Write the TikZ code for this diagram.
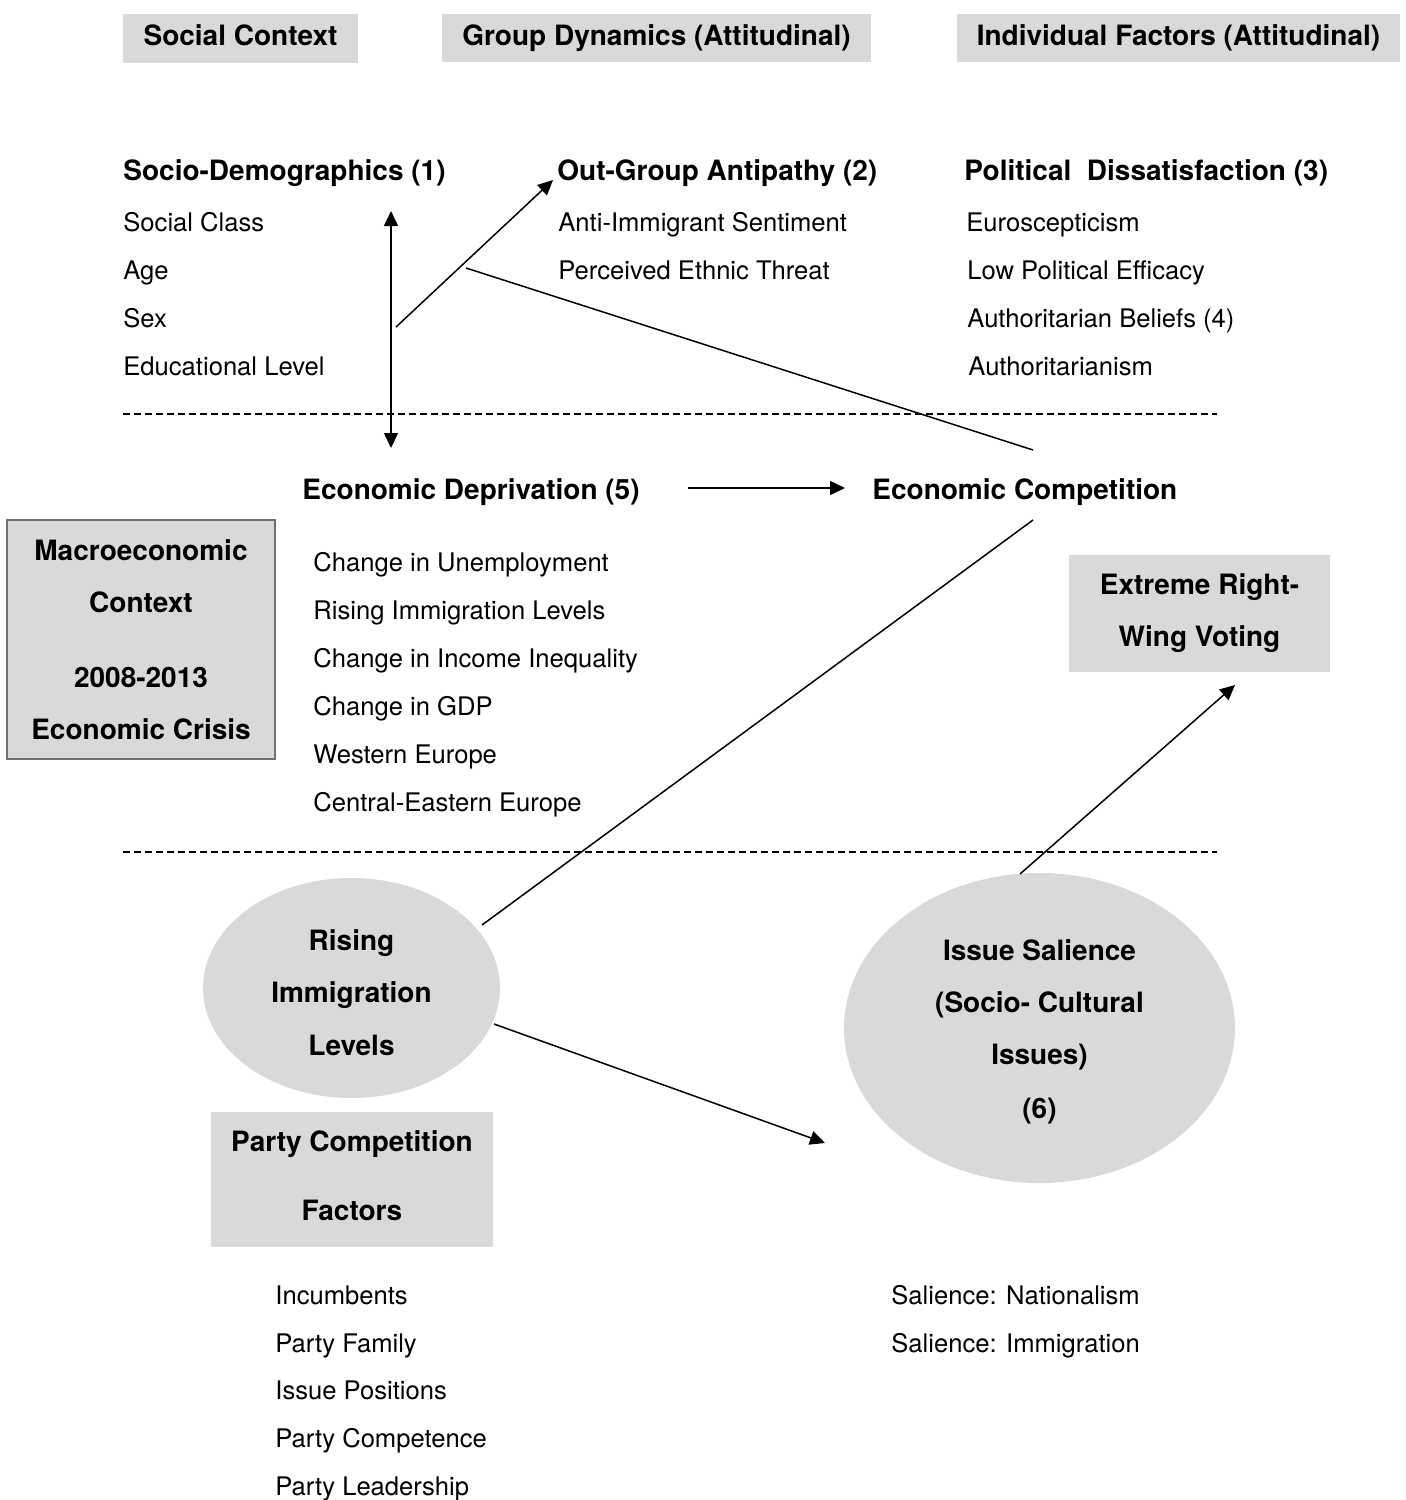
\documentclass[tikz,border=0pt]{standalone}
\usepackage{fontspec}
\setmainfont{TeX Gyre Heros}
\usetikzlibrary{arrows.meta,shapes.geometric}
\definecolor{boxgray}{HTML}{D9D9D9}
\definecolor{edgegray}{HTML}{707070}
\begin{document}
\begin{tikzpicture}[x=0.5pt,y=-0.5pt,
  bf/.style={font=\fontsize{14}{26}\selectfont\bfseries, inner sep=0pt},
  one/.style={text height=0.72em, text depth=0pt},
  ttl/.style={bf, one, anchor=west, yshift=-1pt},
  itm/.style={font=\fontsize{12.8}{24}\selectfont, inner sep=0pt, one, anchor=west, yshift=-1pt},
  graybox/.style={bf, fill=boxgray, align=center},
  grayell/.style={bf, fill=boxgray, ellipse, align=center},
  sep/.style={dashed, dash pattern=on 3.5pt off 2pt, line width=1pt},
  con/.style={line width=0.75pt},
  arr/.style={con, -{Triangle[length=7.5pt,width=7pt]}},
  darr/.style={con, {Triangle[length=7.5pt,width=7pt]}-{Triangle[length=7.5pt,width=7pt]}}
]
\useasboundingbox (0,0) rectangle (1406,1500);

% header boxes
\node[graybox, one, minimum width=117.5pt, minimum height=24.5pt] (hsoc) at (240.5,38.5) {Social Context};
\node[graybox, one, minimum width=214.5pt, minimum height=24pt] (hgrp) at (656.5,38) {Group Dynamics (Attitudinal)};
\node[graybox, one, minimum width=221.5pt, minimum height=24pt] (hind) at (1178.5,38) {Individual Factors (Attitudinal)};

% socio-demographics
\node[ttl] (sd) at (123,171) {Socio-Demographics (1)};
\node[itm] (sd1) at (123,222) {Social Class};
\node[itm] (sd2) at (123,270) {Age};
\node[itm] (sd3) at (123,318) {Sex};
\node[itm] (sd4) at (123,366) {Educational Level};

% out-group antipathy
\node[ttl] (og) at (557,171) {Out-Group Antipathy (2)};
\node[itm] (og1) at (558,222) {Anti-Immigrant Sentiment};
\node[itm] (og2) at (558,270) {Perceived Ethnic Threat};

% political dissatisfaction
\node[ttl] (pd) at (964,171) {Political\ \ Dissatisfaction (3)};
\node[itm] (pd1) at (966,222) {Euroscepticism};
\node[itm] (pd2) at (967,270) {Low Political Efficacy};
\node[itm] (pd3) at (967,318) {Authoritarian Beliefs (4)};
\node[itm] (pd4) at (968,366) {Authoritarianism};

% separators
\coordinate (s1a) at (123,414); \coordinate (s1b) at (1217,414);
\coordinate (s2a) at (123,852); \coordinate (s2b) at (1217,852);
\draw[sep] (s1a) -- (s1b);
\draw[sep] (s2a) -- (s2b);

% economic deprivation / competition
\node[ttl] (ed) at (302,490) {Economic Deprivation (5)};
\node[ttl] (ec) at (872,490) {Economic Competition};
\node[itm] (ed1) at (313,562) {Change in Unemployment};
\node[itm] (ed2) at (313,610) {Rising Immigration Levels};
\node[itm] (ed3) at (313,658) {Change in Income Inequality};
\node[itm] (ed4) at (313,706) {Change in GDP};
\node[itm] (ed5) at (313,754) {Western Europe};
\node[itm] (ed6) at (313,802) {Central-Eastern Europe};

% macro box
\node[graybox, draw=edgegray, line width=0.75pt, minimum width=134pt, minimum height=119.5pt] (macro) at (141,639.5)
  {Macroeconomic\\Context\\[11.5pt]2008-2013\\Economic Crisis};

% extreme right-wing voting
\node[graybox, minimum width=130.5pt, minimum height=58.5pt] (erw) at (1199.5,613.5) {Extreme Right-\\Wing Voting};

% ellipses
\node[grayell, minimum width=148.5pt, minimum height=110pt] (ril) at (351.5,988)
  {\rule{0pt}{15.1pt}Rising\\[0.25pt]Immigration\\[0.25pt]Levels};
\node[grayell, minimum width=195.5pt, minimum height=155pt] (iss) at (1039.5,1028)
  {\rule{0pt}{14.1pt}Issue Salience\\(Socio- Cultural\\Issues)\\[1pt](6)};

% party competition box
\node[graybox, minimum width=141pt, minimum height=67.5pt] (pcf) at (352,1179.5)
  {Party Competition\\[8.5pt]Factors\rule[-4pt]{0pt}{0pt}};
\node[itm] (pc1) at (275,1295) {Incumbents};
\node[itm] (pc2) at (275,1343) {Party Family};
\node[itm] (pc3) at (275,1390) {Issue Positions};
\node[itm] (pc4) at (275,1438) {Party Competence};
\node[itm] (pc5) at (275,1486) {Party Leadership};

% salience items
\node[itm] (sl1) at (891,1295) {Salience: Nationalism};
\node[itm] (sl2) at (891,1343) {Salience: Immigration};

% connector end points
\coordinate (dTop) at (391,211);
\coordinate (dBot) at (391,448);
\coordinate (aStart) at (396,327);
\coordinate (aTip) at (553,180);
\coordinate (lA) at (466,268);
\coordinate (lB) at (1033,450);
\coordinate (eStart) at (688,488);
\coordinate (eTip) at (845,488);
\coordinate (mA) at (1033,520);
\coordinate (mB) at (482,925);
\coordinate (vStart) at (1020,874);
\coordinate (vTip) at (1235,685);
\coordinate (iStart) at (494,1024);
\coordinate (iTip) at (825,1143);

% connectors
\draw[darr] (dTop) -- (dBot);
\draw[arr] (aStart) -- (aTip);
\draw[con] (lA) -- (lB);
\draw[arr] (eStart) -- (eTip);
\draw[con] (mA) -- (mB);
\draw[arr] (vStart) -- (vTip);
\draw[arr] (iStart) -- (iTip);
\end{tikzpicture}
\end{document}
